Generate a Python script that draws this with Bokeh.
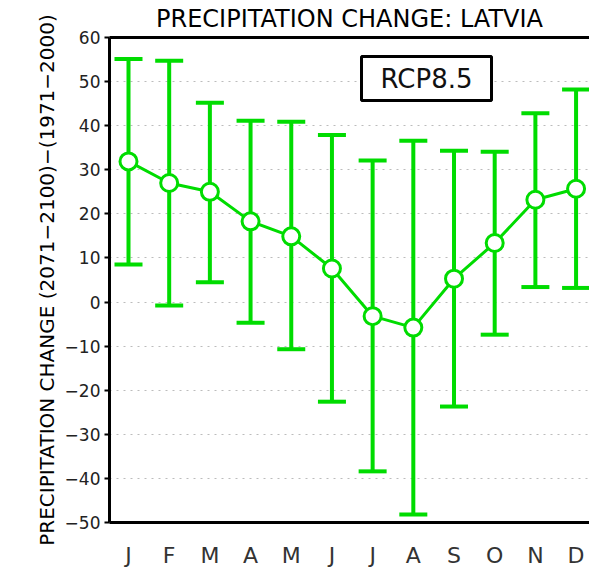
from bokeh.plotting import figure
from bokeh.models import Range1d, FixedTicker, LinearAxis, Label
from bokeh.embed import file_html
from bokeh.resources import INLINE

months = [1, 2, 3, 4, 5, 6, 7, 8, 9, 10, 11, 12]
month_labels = ["J", "F", "M", "A", "M", "J", "J", "A", "S", "O", "N", "D"]
mean_change = [31.9, 27.0, 25.0, 18.3, 14.9, 7.6, -3.2, -5.8, 5.3, 13.4, 23.2, 25.7]
upper_change = [55.1, 54.7, 45.2, 41.1, 40.9, 37.9, 32.1, 36.6, 34.3, 34.1, 42.8, 48.2]
lower_change = [8.5, -0.8, 4.5, -4.7, -10.7, -22.6, -38.4, -48.2, -23.7, -7.4, 3.4, 3.2]
y_ticks = [-50, -40, -30, -20, -10, 0, 10, 20, 30, 40, 50, 60]
y_tick_labels = ["\u221250", "\u221240", "\u221230", "\u221220", "\u221210", "0",
                 "10", "20", "30", "40", "50", "60"]
title_text = "PRECIPITATION CHANGE: LATVIA"
y_label = "PRECIPITATION CHANGE (2071\u22122100)\u2212(1971\u22122000)"
scenario = "RCP8.5"

GREEN = "#00dc00"
FONT = "DejaVu Sans"

p = figure(width=589, height=581, output_backend="svg", toolbar_location=None,
           x_range=Range1d(0.533, 12.33), y_range=Range1d(-50, 60),
           min_border_left=109, min_border_right=0, min_border_top=37,
           min_border_bottom=59, x_axis_location="below")
p.outline_line_color = None
p.background_fill_color = "white"
p.border_fill_color = "white"

# grid
p.xgrid.grid_line_color = None
p.ygrid.ticker = FixedTicker(ticks=y_ticks)
p.ygrid.grid_line_color = "#bcbcbc"
p.ygrid.grid_line_dash = "2 5"
p.ygrid.grid_line_width = 1

# y axis
ya = p.yaxis[0]
ya.ticker = FixedTicker(ticks=y_ticks)
ya.major_label_overrides = {t: l for t, l in zip(y_ticks, y_tick_labels)}
ya.minor_tick_line_color = None
ya.major_tick_out = 5
ya.major_tick_in = 0
ya.major_tick_line_width = 2
ya.major_tick_line_color = "black"
ya.axis_line_width = 3
ya.axis_line_color = "black"
ya.major_label_text_font = FONT
ya.major_label_text_font_size = "17px"
ya.major_label_text_color = "#222222"
ya.major_label_standoff = 4
ya.axis_label = y_label
ya.axis_label_text_font = FONT
ya.axis_label_text_font_style = "normal"
ya.axis_label_text_font_size = "20px"
ya.axis_label_text_color = "black"
ya.axis_label_standoff = 3

# x axis
xa = p.xaxis[0]
xa.ticker = FixedTicker(ticks=months)
xa.major_label_overrides = {m: l for m, l in zip(months, month_labels)}
xa.minor_tick_line_color = None
xa.major_tick_line_color = None
xa.axis_line_width = 3
xa.axis_line_color = "black"
xa.major_label_text_font = FONT
xa.major_label_text_font_size = "22px"
xa.major_label_text_color = "#333333"
xa.major_label_standoff = 14

# top border line carrying the title
top = LinearAxis(ticker=FixedTicker(ticks=[]))
top.axis_line_width = 3
top.axis_line_color = "black"
top.major_tick_line_color = None
top.minor_tick_line_color = None
top.major_label_text_font_size = "0px"
top.major_label_standoff = 0
top.axis_label = title_text
top.axis_label_text_font = FONT
top.axis_label_text_font_style = "normal"
top.axis_label_text_font_size = "24px"
top.axis_label_text_line_height = 0.7
top.axis_label_text_color = "black"
top.axis_label_standoff = 5
p.add_layout(top, "above")

# data glyphs
p.segment(x0=months, y0=lower_change, x1=months, y1=upper_change,
          line_color=GREEN, line_width=4)
p.scatter(x=months, y=upper_change, marker="dash", size=28,
          line_color=GREEN, line_width=4)
p.scatter(x=months, y=lower_change, marker="dash", size=28,
          line_color=GREEN, line_width=4)
p.line(x=months, y=mean_change, line_color=GREEN, line_width=3)
p.scatter(x=months, y=mean_change, marker="circle", size=17,
          fill_color="white", line_color=GREEN, line_width=3)

# scenario box
lab = Label(x=317, y=444, x_units="screen", y_units="screen", text=scenario,
            text_align="center", text_baseline="middle",
            text_font=FONT, text_font_size="26px", text_color="#111111",
            background_fill_color="white", border_line_color="black",
            border_line_width=3, padding=(19, 7))
p.add_layout(lab)

open("out.html", "w").write(file_html(p, INLINE))
